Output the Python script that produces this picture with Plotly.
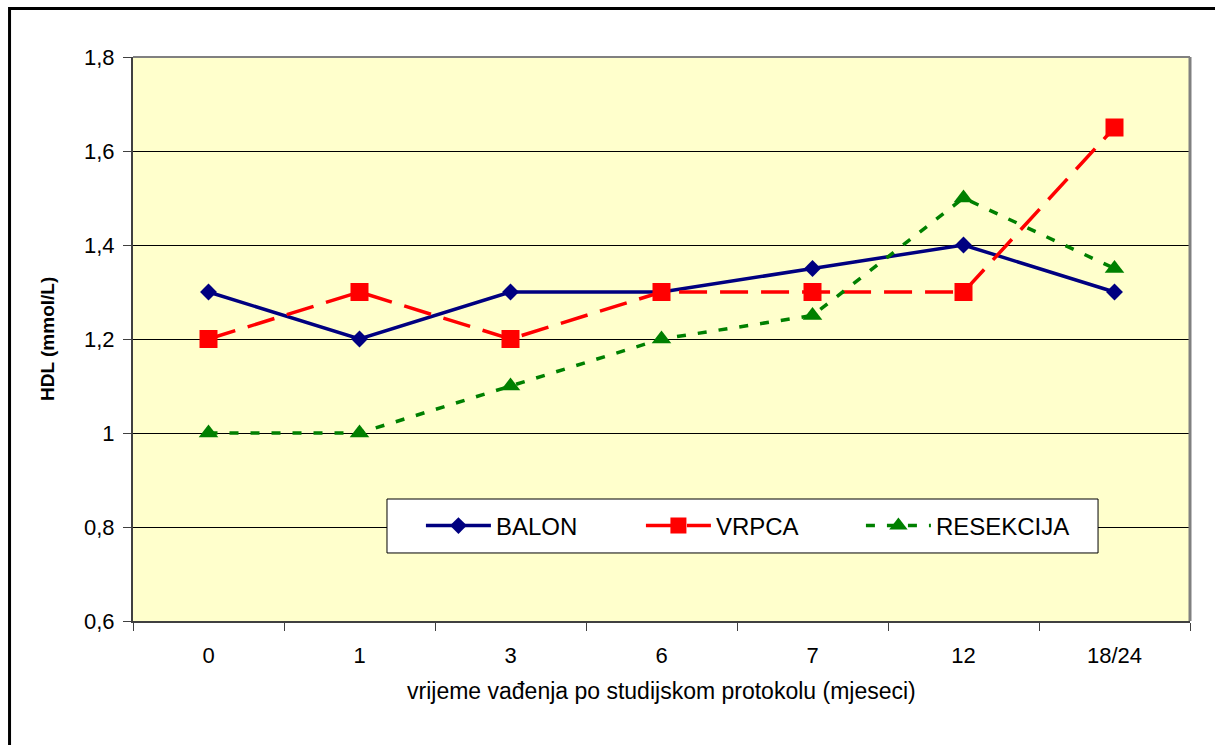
import plotly.graph_objects as go

# Sampling times (months) and HDL means per treatment group
months = ["0", "1", "3", "6", "7", "12", "18/24"]
balon = [1.3, 1.2, 1.3, 1.3, 1.35, 1.4, 1.3]
vrpca = [1.2, 1.3, 1.2, 1.3, 1.3, 1.3, 1.65]
resekcija = [1.0, 1.0, 1.1, 1.2, 1.25, 1.5, 1.35]

y_ticks = [0.6, 0.8, 1.0, 1.2, 1.4, 1.6, 1.8]

FONT = "Liberation Sans, Arial, sans-serif"

fig = go.Figure()

fig.add_trace(go.Scatter(
    x=months, y=balon, name="BALON", mode="lines+markers",
    line=dict(color="#000080", width=3.5),
    marker=dict(symbol="diamond", size=13, color="#000080"),
))
fig.add_trace(go.Scatter(
    x=months, y=vrpca, name="VRPCA", mode="lines+markers",
    line=dict(color="#FF0000", width=3.5, dash="28px,13px"),
    marker=dict(symbol="square", size=18, color="#FF0000"),
))
fig.add_trace(go.Scatter(
    x=months, y=resekcija, name="RESEKCIJA", mode="lines+markers",
    line=dict(color="#008000", width=3.5, dash="9px,12px"),
    marker=dict(symbol="triangle-up", size=17, color="#008000"),
))

fig.update_layout(
    width=1215, height=745,
    margin=dict(l=133, r=25, t=57, b=124),
    paper_bgcolor="white",
    plot_bgcolor="#FFFFCC",
    separators=",.",
    font=dict(family=FONT, size=22, color="black"),
    showlegend=True,
    legend=dict(
        orientation="h",
        x=0.2724, y=0.1684, xanchor="left", yanchor="middle",
        bgcolor="rgba(0,0,0,0)", borderwidth=0,
        font=dict(family=FONT, size=24, color="black"),
        entrywidth=140, entrywidthmode="pixels",
        itemwidth=65,
    ),
    xaxis=dict(
        type="category",
        range=[-0.5, 6.5],
        tickson="boundaries",
        ticks="outside", ticklen=8, tickcolor="#404040", tickwidth=1,
        showline=True, linecolor="#404040", linewidth=2,
        showgrid=False,
        tickfont=dict(family=FONT, size=22),
        ticklabelstandoff=14,
    ),
    yaxis=dict(
        range=[0.6, 1.8],
        tickvals=y_ticks,
        ticks="outside", ticklen=8, tickcolor="#404040", tickwidth=1,
        showline=True, linecolor="#404040", linewidth=2,
        showgrid=True, gridcolor="black", gridwidth=1,
        zeroline=False,
        tickfont=dict(family=FONT, size=22),
        ticklabelstandoff=4,
    ),
    shapes=[
        # grey frame on the top and right of the plotting area
        dict(type="line", xref="paper", yref="paper", x0=0, x1=1, y0=1, y1=1,
             line=dict(color="#808080", width=2)),
        dict(type="line", xref="paper", yref="paper", x0=1, x1=1, y0=0, y1=1,
             line=dict(color="#808080", width=3)),
        # white legend box
        dict(type="rect", xref="paper", yref="paper", layer="above",
             x0=0.2403, x1=0.9130, y0=0.1206, y1=0.2163,
             fillcolor="white", line=dict(color="black", width=1)),
        # chart border
        dict(type="rect", xref="paper", yref="paper",
             x0=-0.1168, x1=1.3, y0=-0.5, y1=1.0860,
             line=dict(color="black", width=3)),
    ],
    annotations=[
        dict(text="<b>HDL (mmol/L)</b>", xref="paper", yref="paper",
             x=-0.0814, y=0.5, xanchor="center", yanchor="middle",
             textangle=-90, showarrow=False,
             font=dict(family=FONT, size=19)),
        dict(text="vrijeme vađenja po studijskom protokolu (mjeseci)",
             xref="paper", yref="paper", x=0.5, y=-0.124,
             xanchor="center", yanchor="middle", showarrow=False,
             font=dict(family=FONT, size=23)),
    ],
)

fig.write_html("out.html")
